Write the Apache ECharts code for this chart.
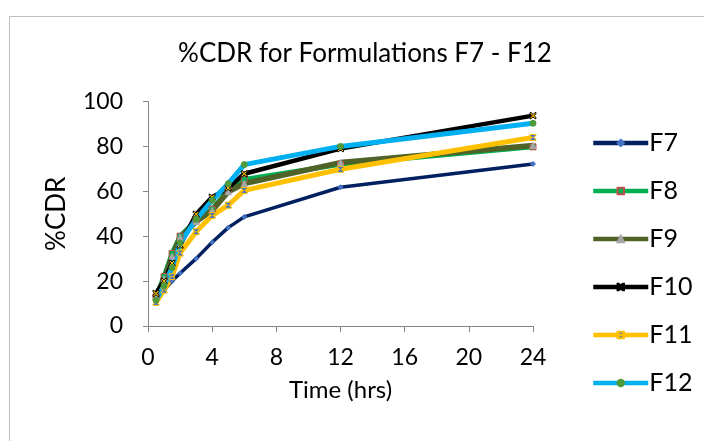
<!DOCTYPE html>
<html>
<head>
<meta charset="utf-8">
<script src="https://cdn.jsdelivr.net/npm/echarts@6/dist/echarts.min.js"></script>
<style>
  html, body { margin: 0; padding: 0; background: #fff; }
  #chart { width: 704px; height: 441px; }
</style>
</head>
<body>
<div id="chart"></div>
<script>
// Sampling times (hrs)
const times = [0.5, 1, 1.5, 2, 3, 4, 5, 6, 12, 24];
const seriesNames = ['F7', 'F8', 'F9', 'F10', 'F11', 'F12'];
const xTicks = [0, 4, 8, 12, 16, 20, 24];
const yTicks = [0, 20, 40, 60, 80, 100];

// Cumulative drug release (%) per formulation
const f7  = [12, 16, 20, 23.5, 30, 37.3, 43.8, 48.6, 61.8, 72.2];
const f8  = [13, 22, 32.3, 40, 47, 52, 60.5, 65.3, 72, 79.8];
const f9  = [13, 21, 31, 39.5, 46.5, 51.5, 59.8, 63.5, 72.8, 80.4];
const f10 = [14.5, 20, 28, 36, 49.8, 57.4, 61.5, 67.8, 79, 93.7];
const f11 = [10.5, 16, 22, 32.5, 42, 49.2, 53.8, 60.4, 69.8, 84];
const f12 = [11.5, 18, 26, 37, 47.5, 56, 63.4, 71.9, 80, 90.3];

const FONT = 'Lato';
const pairs = vals => times.map((t, i) => [t, vals[i]]);

const X_MARK = 'path://M0,0 L2,0 L5,3 L8,0 L10,0 L10,2 L7,5 L10,8 L10,10 L8,10 L5,7 L2,10 L0,10 L0,8 L3,5 L0,2 Z';
const HOURGLASS = 'path://M0,0 L10,0 L10,2 L6,5 L10,8 L10,10 L0,10 L0,8 L4,5 L0,2 Z';

function line(name, vals, color, width, symbol, symColor, symBorder, size) {
  return {
    name: name,
    type: 'line',
    data: pairs(vals),
    symbol: symbol,
    symbolSize: size,
    showSymbol: true,
    lineStyle: { color: color, width: width },
    itemStyle: { color: symColor, borderColor: symBorder, borderWidth: 1 },
    emphasis: { disabled: true },
    animation: false
  };
}

const chart = echarts.init(document.getElementById('chart'), null, { renderer: 'canvas' });
chart.setOption({
  backgroundColor: '#fff',
  animation: false,
  title: {
    text: '%CDR for Formulations F7 - F12',
    left: 360,
    top: 36,
    textAlign: 'center',
    textStyle: { fontFamily: FONT, fontSize: 26, fontWeight: 'normal', color: '#000' }
  },
  graphic: [{
    type: 'rect',
    shape: { x: 9.5, y: 16.5, width: 720, height: 450 },
    style: { fill: 'none', stroke: '#bfbfbf', lineWidth: 1 },
    silent: true
  }],
  legend: {
    orient: 'vertical',
    left: 586,
    top: 124,
    itemGap: 20,
    itemWidth: 55,
    itemHeight: 8,
    lineStyle: { width: 4.5 },
    textStyle: { fontFamily: FONT, fontSize: 25, lineHeight: 28, color: '#000', padding: [0, 0, 0, -4] },
    data: seriesNames
  },
  grid: { left: 148, top: 101.5, width: 385, height: 224.5, containLabel: false },
  xAxis: {
    type: 'value',
    min: 0, max: 24, interval: 4,
    name: 'Time (hrs)',
    nameLocation: 'middle',
    nameGap: 52,
    nameTextStyle: { fontFamily: FONT, fontSize: 24, color: '#000' },
    axisLine: { show: true, lineStyle: { color: '#868686', width: 1 } },
    axisTick: { show: true, length: 6, lineStyle: { color: '#868686' } },
    axisLabel: {
      fontFamily: FONT, fontSize: 23, color: '#000', margin: 20,
      formatter: v => xTicks.includes(v) ? String(v) : ''
    },
    splitLine: { show: false }
  },
  yAxis: {
    type: 'value',
    min: 0, max: 100, interval: 20,
    name: '%CDR',
    nameLocation: 'middle',
    nameGap: 78,
    nameRotate: 90,
    nameTextStyle: { fontFamily: FONT, fontSize: 26, color: '#000' },
    axisLine: { show: true, lineStyle: { color: '#868686', width: 1 } },
    axisTick: { show: true, length: 5, lineStyle: { color: '#868686' } },
    axisLabel: {
      fontFamily: FONT, fontSize: 23, color: '#000', margin: 25,
      formatter: v => yTicks.includes(v) ? String(v) : ''
    },
    splitLine: { show: false }
  },
  series: [
    line('F7',  f7,  '#002060', 3.5, 'diamond',  '#4472c4', '#4472c4', 5),
    line('F8',  f8,  '#00b050', 5,   'rect',     '#00b050', '#c0504d', 6),
    line('F9',  f9,  '#4f6228', 5.5, 'triangle', '#a6a6a6', '#a6a6a6', 6),
    line('F10', f10, '#000000', 4.5, X_MARK,     '#ffc000', '#000000', 6),
    line('F11', f11, '#ffc000', 5,   HOURGLASS,  '#4472c4', '#ffc000', 6),
    line('F12', f12, '#00b0f0', 5,   'circle',   '#4f9a3b', '#4f9a3b', 6)
  ]
});
</script>
</body>
</html>
